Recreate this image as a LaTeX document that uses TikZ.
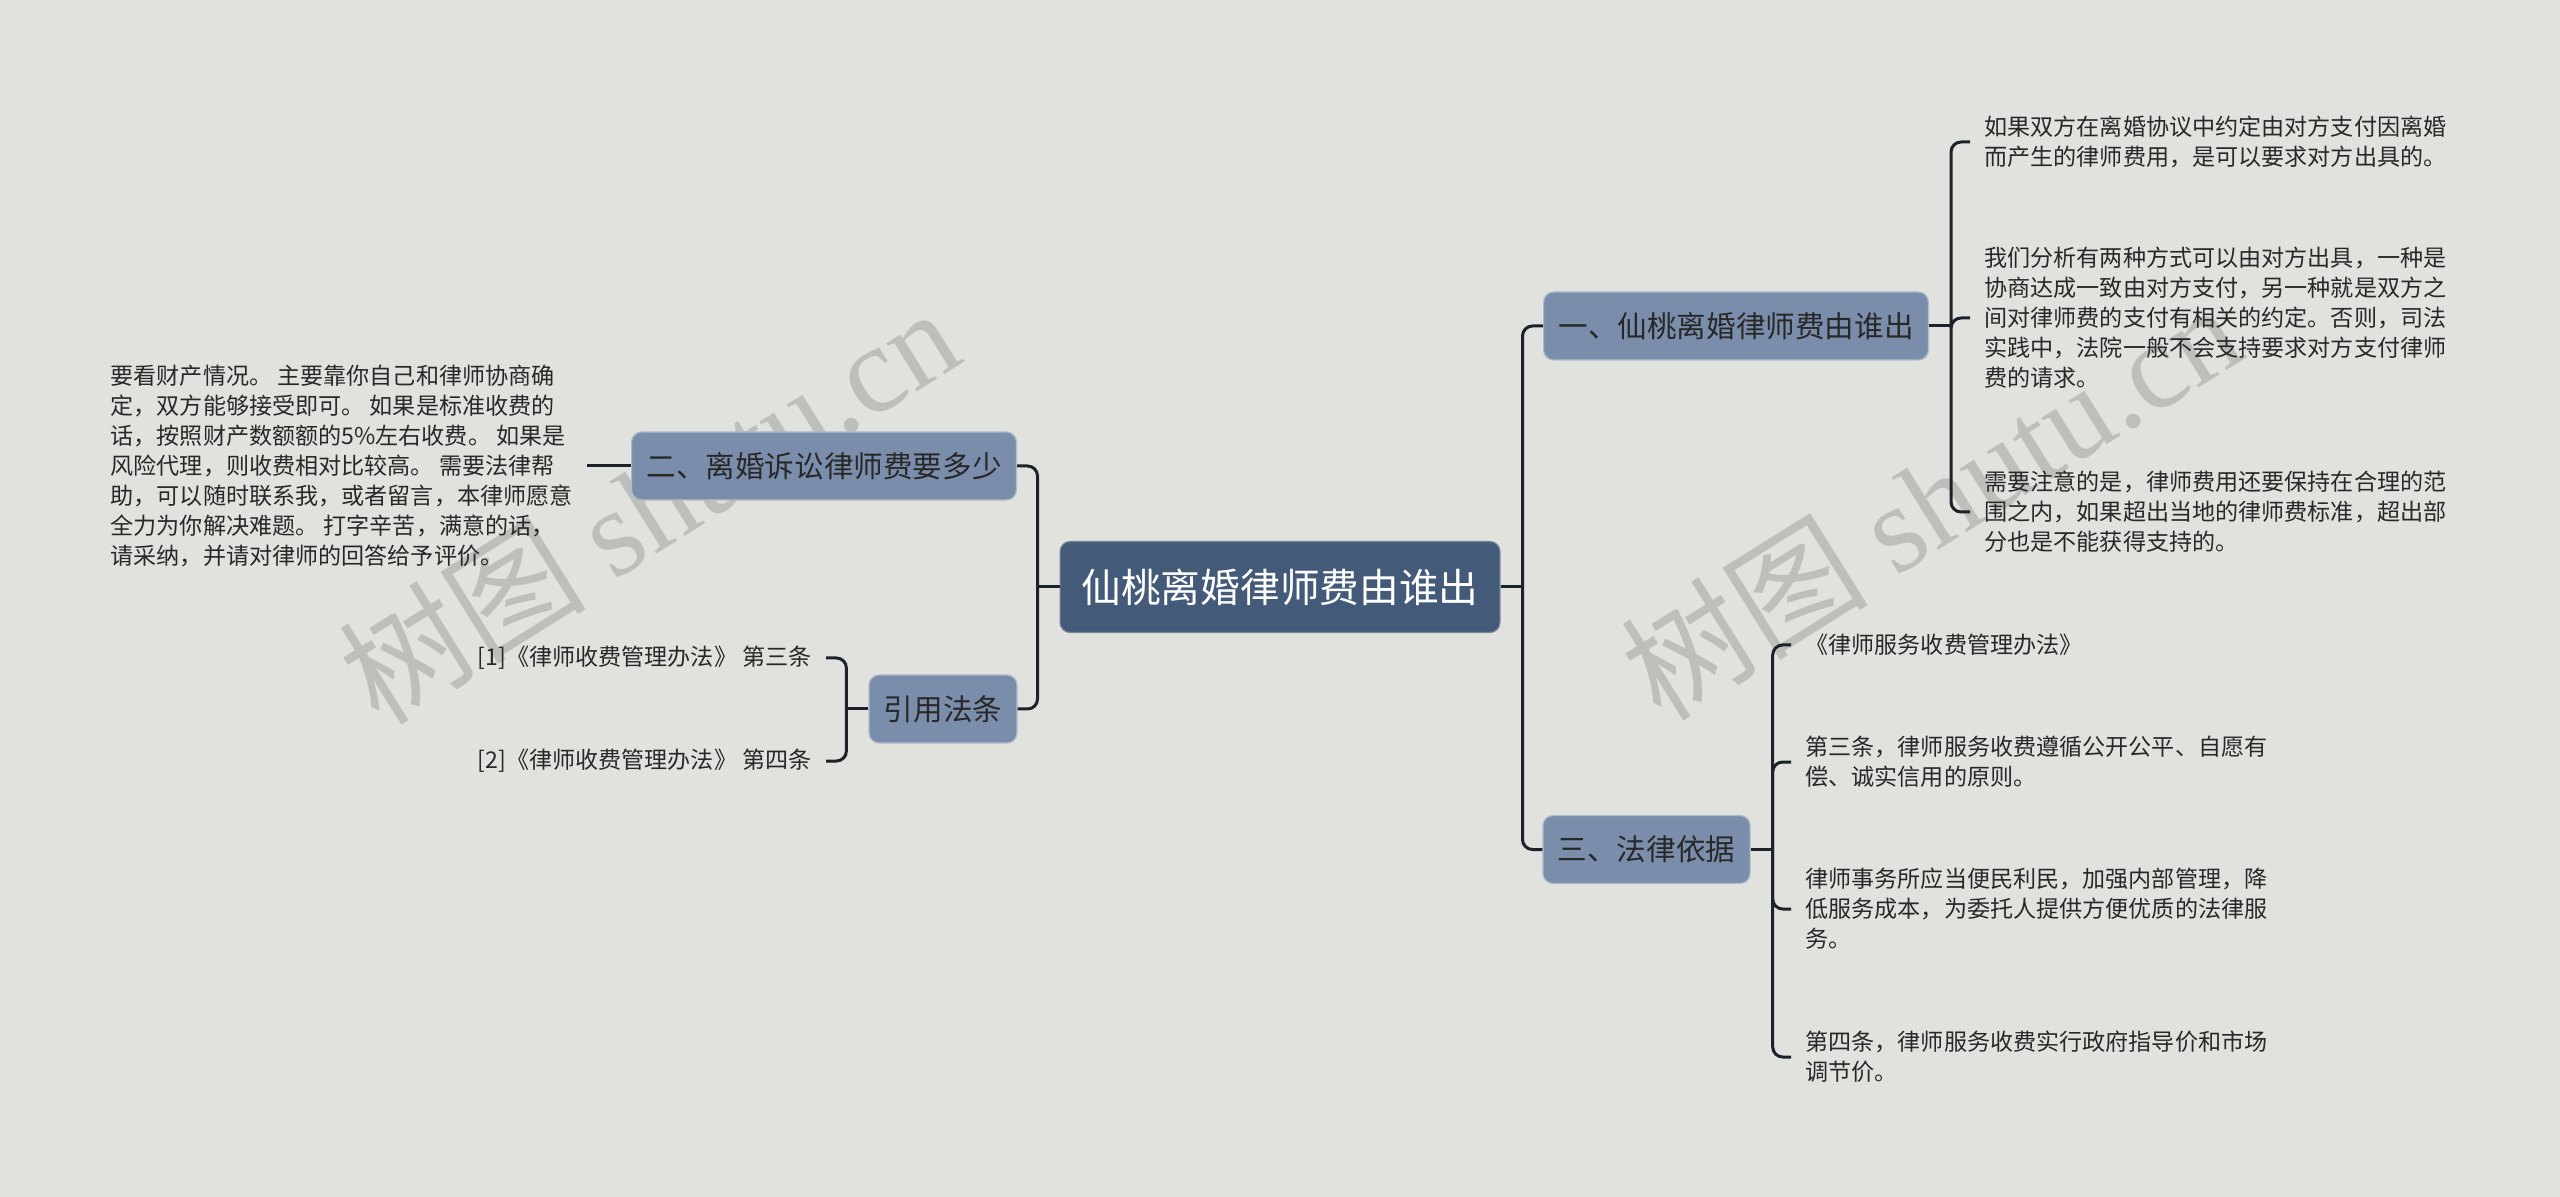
\documentclass[tikz,border=0pt]{standalone}
\usepackage{fontspec}
\setmainfont{Noto Sans CJK SC}
\newfontfamily\wmlatin{Liberation Serif}
\usepackage{xcolor}
\usepackage{tikz}

\definecolor{paper}{RGB}{225,226,222}
\definecolor{rootblue}{RGB}{67,90,121}
\definecolor{branchblue}{RGB}{122,142,172}
\definecolor{inkline}{RGB}{28,34,44}
\definecolor{inktext}{RGB}{40,40,40}
\definecolor{wmgray}{RGB}{190,191,187}

\begin{document}
\begin{tikzpicture}[x=0.5pt,y=-0.5pt,
  rootbox/.style={fill=rootblue,draw=rootblue!75!white,line width=0.6pt,rounded corners=5pt,
    text=white,font=\fontsize{19.85pt}{24pt}\selectfont,inner xsep=10.7pt,minimum height=45.5pt},
  branchbox/.style={fill=branchblue,draw=branchblue!60!white,line width=0.6pt,rounded corners=5pt,
    text=inktext,font=\fontsize{14.8pt}{18pt}\selectfont,inner xsep=7.4pt,minimum height=34pt},
  leaftext/.style={text=inktext,font=\fontsize{11.55pt}{15pt}\selectfont,align=left,inner xsep=7pt,inner ysep=0pt},
  link/.style={draw=inkline,line width=1.5pt,rounded corners=5pt},
  watermark/.style={text=wmgray,rotate=32,font=\fontsize{62pt}{70pt}\selectfont}]
  \useasboundingbox (0,0) rectangle (2560,1197);
  \fill[paper] (0,0) rectangle (2560,1197);

  \node[watermark] (wmleft) at (648,504) {树图 {\wmlatin shutu.cn}};
  \node[watermark] (wmright) at (1930,500) {树图 {\wmlatin shutu.cn}};

  \node[rootbox] (root) at (1280,587) {仙桃离婚律师费由谁出};
  \node[branchbox] (fee) at (1736,326) {一、仙桃离婚律师费由谁出};
  \node[branchbox] (basis) at (1646.5,849.5) {三、法律依据};
  \node[branchbox] (cost) at (824,466) {二、离婚诉讼律师费要多少};
  \node[branchbox] (cite) at (943,709) {引用法条};

  \node[leaftext,anchor=west] (fee1) at (1970,142) {如果双方在离婚协议中约定由对方支付因离婚\\而产生的律师费用，是可以要求对方出具的。};
  \node[leaftext,anchor=west] (fee2) at (1970,318) {我们分析有两种方式可以由对方出具，一种是\\协商达成一致由对方支付，另一种就是双方之\\间对律师费的支付有相关的约定。否则，司法\\实践中，法院一般不会支持要求对方支付律师\\费的请求。};
  \node[leaftext,anchor=west] (fee3) at (1970,512) {需要注意的是，律师费用还要保持在合理的范\\围之内，如果超出当地的律师费标准，超出部\\分也是不能获得支持的。};

  \node[leaftext,anchor=west] (basis1) at (1791,645) {《律师服务收费管理办法》};
  \node[leaftext,anchor=west] (basis2) at (1791,762) {第三条，律师服务收费遵循公开公平、自愿有\\偿、诚实信用的原则。};
  \node[leaftext,anchor=west] (basis3) at (1791,909) {律师事务所应当便民利民，加强内部管理，降\\低服务成本，为委托人提供方便优质的法律服\\务。};
  \node[leaftext,anchor=west] (basis4) at (1791,1057) {第四条，律师服务收费实行政府指导价和市场\\调节价。};

  \node[leaftext,anchor=east] (cost1) at (587,466) {要看财产情况。 主要靠你自己和律师协商确\\定，双方能够接受即可。 如果是标准收费的\\话，按照财产数额额的5\%左右收费。 如果是\\风险代理，则收费相对比较高。 需要法律帮\\助，可以随时联系我，或者留言，本律师愿意\\全力为你解决难题。 打字辛苦，满意的话，\\请采纳，并请对律师的回答给予评价。};

  \node[leaftext,anchor=east] (cite1) at (826,658) {[1]《律师收费管理办法》 第三条};
  \node[leaftext,anchor=east] (cite2) at (826,761) {[2]《律师收费管理办法》 第四条};

  \coordinate (rootR) at ([xshift=11pt]root.east);
  \coordinate (rootL) at ([xshift=-11pt]root.west);
  \coordinate (feeJ) at ([xshift=11pt]fee.east);
  \coordinate (basisJ) at ([xshift=11pt]basis.east);
  \coordinate (citeJ) at ([xshift=-11pt]cite.west);

  \draw[link] (root.east) -- (rootR);
  \draw[link] (rootR) |- (fee.west);
  \draw[link] (rootR) |- (basis.west);
  \draw[link] (root.west) -- (rootL);
  \draw[link] (rootL) |- (cost.east);
  \draw[link] (rootL) |- (cite.east);

  \draw[link] (fee.east) -- (feeJ);
  \draw[link] (feeJ) |- (fee1.west);
  \draw[link] (feeJ) |- (fee2.west);
  \draw[link] (feeJ) |- (fee3.west);

  \draw[link] (basis.east) -- (basisJ);
  \draw[link] (basisJ) |- (basis1.west);
  \draw[link] (basisJ) |- (basis2.west);
  \draw[link] (basisJ) |- (basis3.west);
  \draw[link] (basisJ) |- (basis4.west);

  \draw[link] (cost.west) -- (cost1.east);

  \draw[link] (cite.west) -- (citeJ);
  \draw[link] (citeJ) |- (cite1.east);
  \draw[link] (citeJ) |- (cite2.east);
\end{tikzpicture}
\end{document}
